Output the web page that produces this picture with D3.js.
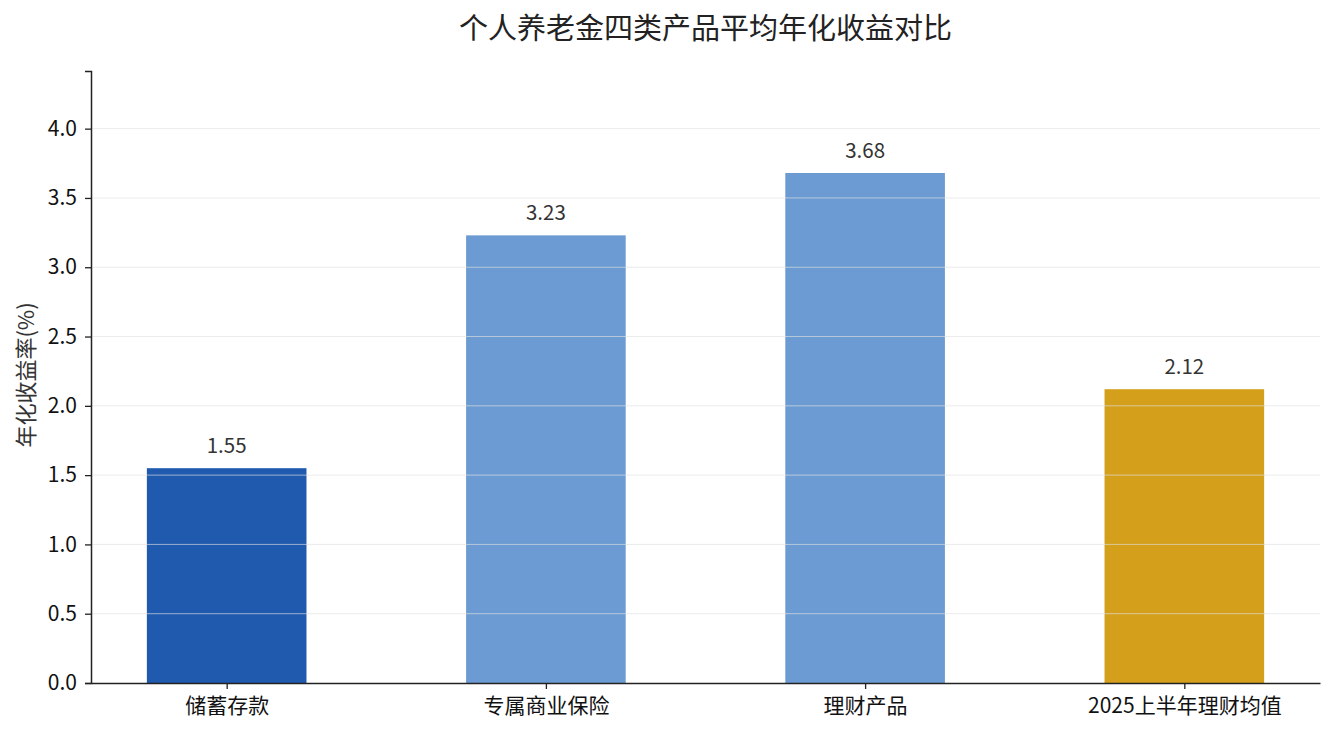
<!DOCTYPE html>
<html lang="zh">

<head>
    <meta charset="UTF-8">
    <title>个人养老金四类产品平均年化收益对比</title>
    <script src="https://cdn.jsdelivr.net/npm/d3@7"></script>
    <style>
        body {
            margin: 0;
            background: #fff;
            font-family: "Noto Sans CJK SC", "Noto Sans", sans-serif;
        }
    </style>
</head>

<body>
    <svg width="1334" height="735"></svg>

    <script>
        const categories = ["储蓄存款", "专属商业保险", "理财产品", "2025上半年理财均值"];
        const returns = [1.55, 3.23, 3.68, 2.12];
        const barColors = ["#1f5aaf", "#6b9bd2", "#6b9bd2", "#d4a01c"];
        const yTicks = [0, 0.5, 1.0, 1.5, 2.0, 2.5, 3.0, 3.5, 4.0];

        const svg = d3.select("svg");
        const margin = { top: 71, right: 14, bottom: 52, left: 91 };
        const width = 1334 - margin.left - margin.right;
        const height = 735 - margin.top - margin.bottom;

        const g = svg.append("g")
            .attr("transform", `translate(${margin.left},${margin.top})`);

        // bars span -0.25..3.25, plus 5% margin like matplotlib
        const x = d3.scaleLinear()
            .domain([-0.425, categories.length - 1 + 0.425])
            .range([0, width]);
        const barW = x(0.5) - x(0);

        const y = d3.scaleLinear()
            .domain([0, d3.max(returns) * 1.2])
            .range([height, 0]);

        // bars
        g.selectAll("rect.bar")
            .data(returns)
            .enter()
            .append("rect")
            .attr("class", "bar")
            .attr("x", (d, i) => x(i) - barW / 2)
            .attr("y", d => y(d))
            .attr("width", barW)
            .attr("height", d => height - y(d))
            .attr("fill", (d, i) => barColors[i]);

        // grid drawn on top of bars
        g.append("g")
            .selectAll("line")
            .data(yTicks.filter(t => t > 0))
            .enter()
            .append("line")
            .attr("x1", 0)
            .attr("x2", width)
            .attr("y1", d => y(d))
            .attr("y2", d => y(d))
            .attr("stroke", "#e0e0e0")
            .attr("stroke-opacity", 0.65)
            .attr("stroke-width", 1);

        // value labels
        g.selectAll("text.value")
            .data(returns)
            .enter()
            .append("text")
            .attr("class", "value")
            .attr("x", (d, i) => x(i))
            .attr("y", d => y(d) - 15)
            .attr("text-anchor", "middle")
            .attr("font-size", "20.5px")
            .attr("fill", "#333")
            .text(d => d.toFixed(2));

        // axes
        const yAxis = g.append("g")
            .call(d3.axisLeft(y).tickValues(yTicks).tickFormat(d3.format(".1f")).tickSize(6).tickPadding(8));
        yAxis.select(".domain").attr("stroke", "#222").attr("stroke-width", 1.5);
        yAxis.selectAll(".tick line").attr("stroke", "#222").attr("stroke-width", 1.3);
        yAxis.selectAll("text")
            .attr("font-size", "21px")
            .attr("fill", "#111")
            .attr("font-family", "'Noto Sans CJK SC', sans-serif");

        const xAxis = g.append("g")
            .attr("transform", `translate(0,${height})`)
            .call(d3.axisBottom(x).tickValues(d3.range(categories.length)).tickFormat(i => categories[i]).tickSize(6).tickPadding(9).tickSizeOuter(0));
        xAxis.select(".domain").attr("stroke", "#222").attr("stroke-width", 1.5);
        xAxis.selectAll(".tick line").attr("stroke", "#222").attr("stroke-width", 1.3);
        xAxis.selectAll("text")
            .attr("font-size", "21px")
            .attr("fill", "#111")
            .attr("font-family", "'Noto Sans CJK SC', sans-serif");

        // y label
        svg.append("text")
            .attr("transform", `translate(34,${margin.top + height / 2 - 2}) rotate(-90)`)
            .attr("text-anchor", "middle")
            .attr("font-size", "22px")
            .attr("fill", "#333")
            .text("年化收益率(%)");

        // title
        svg.append("text")
            .attr("x", margin.left + width / 2)
            .attr("y", 39)
            .attr("text-anchor", "middle")
            .attr("font-size", "29px")
            .attr("fill", "#222")
            .text("个人养老金四类产品平均年化收益对比");
    </script>
</body>

</html>
